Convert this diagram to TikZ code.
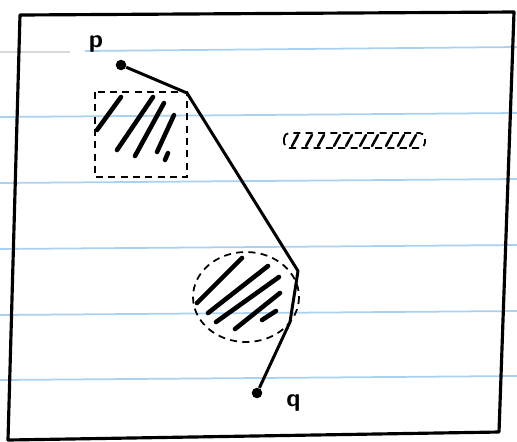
\documentclass[tikz,border=0pt]{standalone}
\usepackage{tikz}
\usetikzlibrary{positioning}
\definecolor{ruling}{RGB}{170,210,240}
\tikzstyle{ruled} = [ruling, line width=1pt]
\tikzstyle{frame} = [line width=1.8pt, line join=round]
\tikzstyle{route} = [line width=1.7pt, line join=round]
\tikzstyle{outline} = [dashed, line width=1pt, dash pattern=on 4pt off 3pt]
\tikzstyle{hatch} = [line width=2.6pt, line cap=round]
\tikzstyle{endpt} = [circle, fill=black, inner sep=0pt, minimum size=6pt]
\tikzstyle{lbl} = [font=\Large\sffamily\bfseries]

\begin{document}
\begin{tikzpicture}[x=0.02cm, y=-0.02cm]
    \useasboundingbox (0,0) rectangle (517,441);
    % paper rulings
    \draw[gray!30, line width=1pt] (0,52) -- (70,52);
    \draw[ruled] (85,51) -- (517,47);
    \foreach \y in {116,182,248,314,379}
        \draw[ruled] (0,\y+1) -- (517,\y-3);

    % sheet border
    \draw[frame] (20,15) -- (514,12) -- (499,432) -- (8,440) -- cycle;

    % obstacles
    \draw[outline] (95,92) rectangle (187,177);
    \draw[hatch] (97,130) -- (121,97);
    \draw[hatch] (117,150) -- (153,97);
    \draw[hatch] (135,156) -- (164,103);
    \draw[hatch] (157,152) -- (174,115);
    \draw[hatch] (165,160) -- (168,153);

    \draw[outline] (246,297) ellipse [x radius=53, y radius=45];
    \draw[hatch] (197,303) -- (242,258);
    \draw[hatch] (208,313) -- (268,266);
    \draw[hatch] (216,322) -- (279,277);
    \draw[hatch] (235,329) -- (280,293);
    \draw[hatch] (262,320) -- (276,311);

    \draw[outline, rounded corners=3pt] (284,133) rectangle (425,148);
    \foreach \x in {292,306,318,334,346,360,372,386,398,410}
        \draw[line width=1.4pt, line cap=round] (\x,146) -- (\x+6,135);

    % route from p to q
    \node (p) [endpt] at (121,65) {};
    \node (q) [endpt] at (257,393) {};
    \node (plabel) [lbl] at (96,44) {p};
    \node (qlabel) [lbl, right=0.35cm of q, yshift=-0.2cm] {q};
    \coordinate (bend1) at (187,93);
    \coordinate (bend2) at (298,271);
    \coordinate (bend3) at (290,322);

    \draw[route] (p) -- (bend1) -- (bend2) -- (bend3) -- (q);

\end{tikzpicture}
\end{document}
